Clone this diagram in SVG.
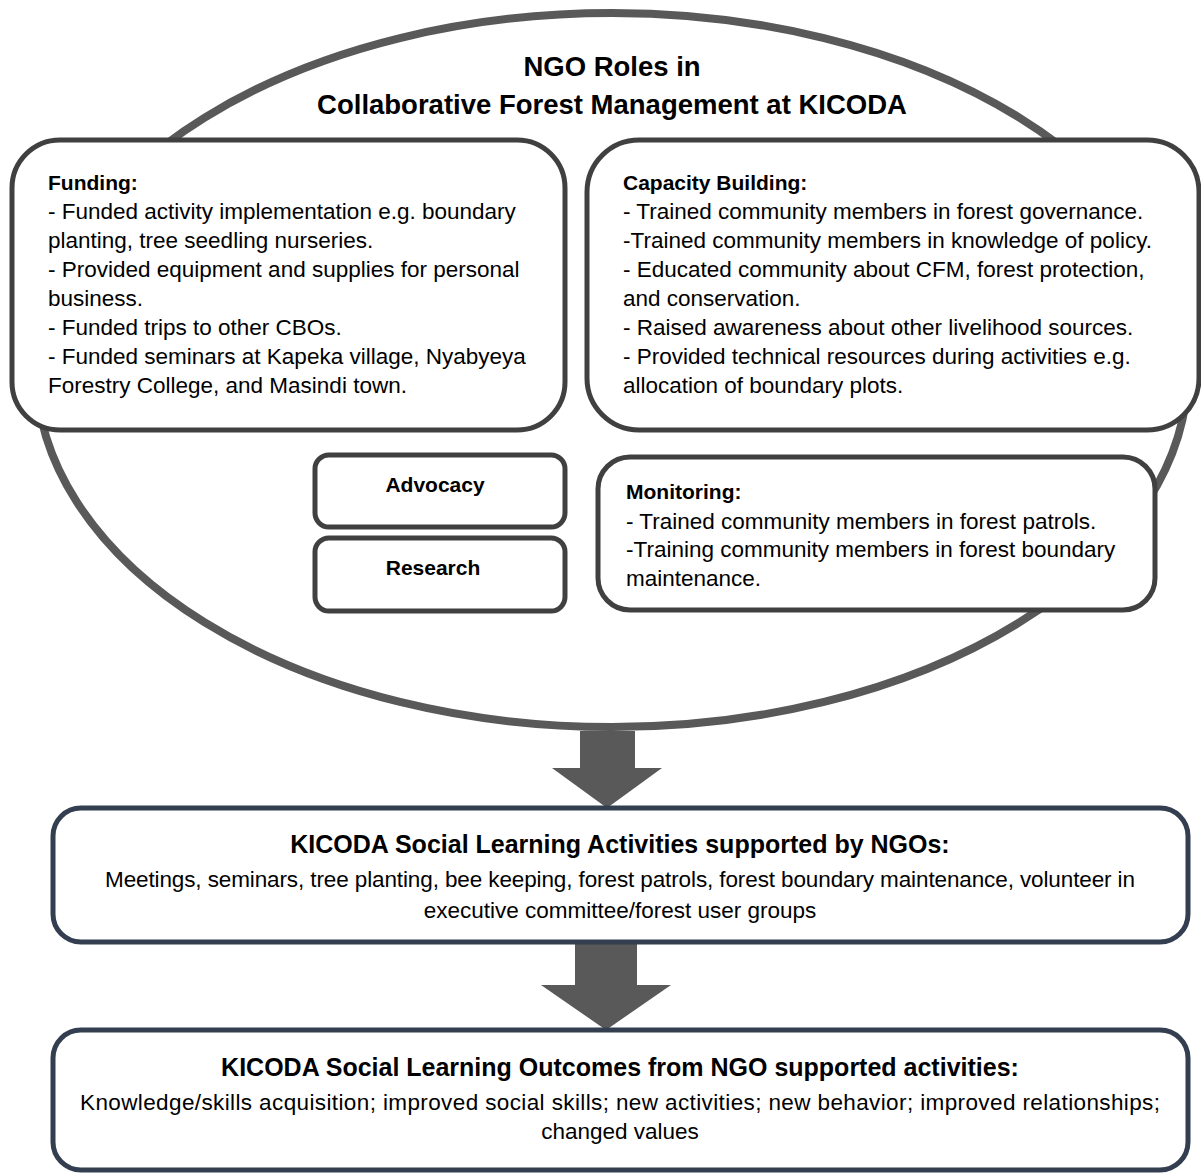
<svg xmlns="http://www.w3.org/2000/svg" width="1201" height="1174" viewBox="0 0 1201 1174">
<style>
.t{font-family:"Liberation Sans",Arial,sans-serif;font-size:22.5px;fill:#000}
.b{font-weight:bold;font-size:21px}
.title{font-family:"Liberation Sans",Arial,sans-serif;font-size:27.5px;font-weight:bold;fill:#000}
.h2{font-family:"Liberation Sans",Arial,sans-serif;font-size:25px;font-weight:bold;fill:#000}
.role{fill:#fff;stroke:#404040;stroke-width:5}
.res{fill:#fff;stroke:#333f50;stroke-width:5}
.arr{fill:#595959}
</style>
<rect width="1201" height="1174" fill="#fff"/>
<g id="ngo-roles">
<ellipse cx="612" cy="370" rx="576" ry="357" fill="#fff" stroke="#595959" stroke-width="8"/>
<text class="title" x="612" y="76" text-anchor="middle">NGO Roles in</text>
<text class="title" x="612" y="114" text-anchor="middle">Collaborative Forest Management at KICODA</text>
</g>
<g id="funding">
<rect class="role" x="12" y="140" width="553" height="290" rx="48"/>
<text class="t"><tspan class="b" x="48" y="190">Funding:</tspan><tspan x="48" y="219">- Funded activity implementation e.g. boundary</tspan><tspan x="48" y="248">planting, tree seedling nurseries.</tspan><tspan x="48" y="277">- Provided equipment and supplies for personal</tspan><tspan x="48" y="306">business.</tspan><tspan x="48" y="335">- Funded trips to other CBOs.</tspan><tspan x="48" y="364">- Funded seminars at Kapeka village, Nyabyeya</tspan><tspan x="48" y="393">Forestry College, and Masindi town.</tspan></text>
</g>
<g id="capacity-building">
<rect class="role" x="587" y="140" width="612" height="290" rx="52"/>
<text class="t"><tspan class="b" x="623" y="190">Capacity Building:</tspan><tspan x="623" y="219">- Trained community members in forest governance.</tspan><tspan x="623" y="248">-Trained community members in knowledge of policy.</tspan><tspan x="623" y="277">- Educated community about CFM, forest protection,</tspan><tspan x="623" y="306">and conservation.</tspan><tspan x="623" y="335">- Raised awareness about other livelihood sources.</tspan><tspan x="623" y="364">- Provided technical resources during activities e.g.</tspan><tspan x="623" y="393">allocation of boundary plots.</tspan></text>
</g>
<g id="advocacy">
<rect class="role" x="315" y="455" width="250" height="72" rx="14"/>
<text class="t b" x="435" y="492" text-anchor="middle">Advocacy</text>
</g>
<g id="research">
<rect class="role" x="315" y="538" width="250" height="73" rx="14"/>
<text class="t b" x="433" y="575" text-anchor="middle">Research</text>
</g>
<g id="monitoring">
<rect class="role" x="598" y="457" width="557" height="153" rx="32"/>
<text class="t"><tspan class="b" x="626" y="499">Monitoring:</tspan><tspan x="626" y="529">- Trained community members in forest patrols.</tspan><tspan x="626" y="557">-Training community members in forest boundary</tspan><tspan x="626" y="586">maintenance.</tspan></text>
</g>
<g id="connectors">
<polygon class="arr" points="580,731 635,731 635,768 662,768 607,808 552,768 580,768"/>
<polygon class="arr" points="575,940 637,940 637,985 671,985 606,1030 541,985 575,985"/>
</g>
<g id="activities">
<rect class="res" x="53" y="808" width="1135" height="134" rx="28"/>
<text class="h2" x="620" y="853" text-anchor="middle">KICODA Social Learning Activities supported by NGOs:</text>
<text class="t" x="620" y="887" text-anchor="middle" textLength="1030">Meetings, seminars, tree planting, bee keeping, forest patrols, forest boundary maintenance, volunteer in</text>
<text class="t" x="620" y="918" text-anchor="middle">executive committee/forest user groups</text>
</g>
<g id="outcomes">
<rect class="res" x="53" y="1030" width="1135" height="140" rx="28"/>
<text class="h2" x="620" y="1076" text-anchor="middle">KICODA Social Learning Outcomes from NGO supported activities:</text>
<text class="t" x="620" y="1110" text-anchor="middle" textLength="1080">Knowledge/skills acquisition; improved social skills; new activities; new behavior; improved relationships;</text>
<text class="t" x="620" y="1139" text-anchor="middle">changed values</text>
</g>
</svg>
